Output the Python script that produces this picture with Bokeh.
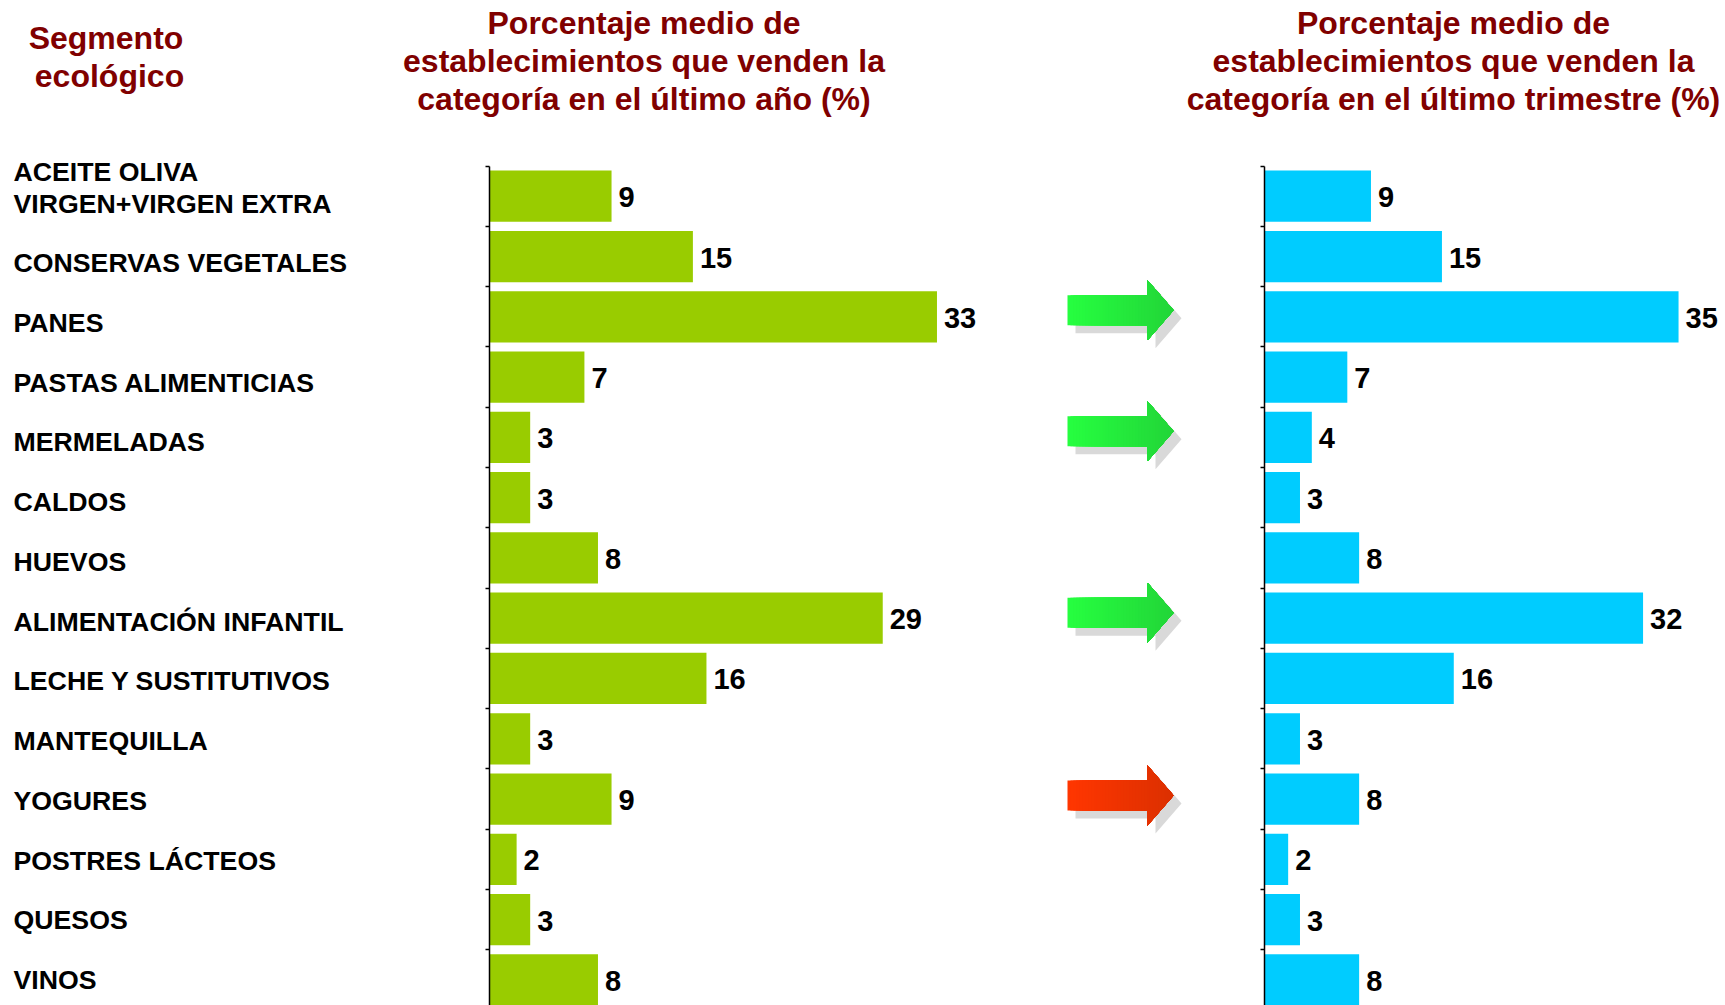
from bokeh.plotting import figure
from bokeh.models import Range1d, FixedTicker, LinearAxis, ColumnDataSource
from bokeh.core.properties import value
from bokeh.embed import file_html
from bokeh.resources import INLINE

categories = ["ACEITE OLIVA\nVIRGEN+VIRGEN EXTRA", "CONSERVAS VEGETALES", "PANES", "PASTAS ALIMENTICIAS",
              "MERMELADAS", "CALDOS", "HUEVOS", "ALIMENTACIÓN INFANTIL", "LECHE Y SUSTITUTIVOS",
              "MANTEQUILLA", "YOGURES", "POSTRES LÁCTEOS", "QUESOS", "VINOS"]
year_values = [9, 15, 33, 7, 3, 3, 8, 29, 16, 3, 9, 2, 3, 8]
quarter_values = [9, 15, 35, 7, 4, 3, 8, 32, 16, 3, 8, 2, 3, 8]
arrow_rows = [2, 4, 7, 10]
arrow_kinds = ["up", "up", "up", "down"]
header_segment = ["Segmento", "ecológico"]
header_year = ["Porcentaje medio de", "establecimientos que venden la", "categoría en el último año (%)"]
header_quarter = ["Porcentaje medio de", "establecimientos que venden la", "categoría en el último trimestre (%)"]

FONT = "Liberation Sans"
GREEN, BLUE, DARK_RED = "#99CC00", "#00CCFF", "#800000"
TOP, PITCH = 165.6, 60.28
AX1, UNIT1 = 489.0, 13.56
AX2, UNIT2 = 1264.0, 11.83
W, H, LEFT = 1725, 1005, 12
N = len(categories)


def py(y):
    return (y - TOP) / PITCH


def px1(x):
    return (x - AX1) / UNIT1


def px2(x):
    return (x - AX2) / UNIT2


p = figure(frame_width=W - LEFT, frame_height=H, width=W, height=H, output_backend="svg", toolbar_location=None,
           x_range=Range1d(px1(LEFT), px1(W)), y_range=Range1d(py(H), py(0)),
           x_axis_location=None, y_axis_location=None,
           min_border_left=LEFT, min_border_right=0, min_border_top=0, min_border_bottom=0,
           outline_line_color=None, background_fill_color="white", border_fill_color="white")
p.grid.visible = False
p.extra_x_ranges = {"q": Range1d(px2(LEFT), px2(W))}

ticks = list(range(N + 1))
for location in (0.0, px1(AX2)):
    ax = LinearAxis(fixed_location=location, bounds=(0, N), ticker=FixedTicker(ticks=ticks),
                    major_label_overrides={t: "" for t in ticks}, major_label_standoff=0,
                    major_tick_in=0, major_tick_out=4, minor_tick_line_color=None,
                    axis_line_color="#000000", axis_line_width=1.5,
                    major_tick_line_color="#000000", major_tick_line_width=1.5)
    p.add_layout(ax, "left")


def draw_bars(values, color, **rng):
    ys = [i + 0.5 for i in range(len(values))]
    src = ColumnDataSource(dict(y=ys, v=values, t=[str(v) for v in values]))
    p.hbar(y="y", right="v", left=0, height=0.85, source=src, fill_color=color, line_color=None, **rng)
    p.text(x="v", y="y", text="t", source=src, x_offset=7, y_offset=1,
           text_font=value(FONT), text_font_style="bold", text_font_size="29px",
           text_color="#000000", text_align="left", text_baseline="middle", **rng)


def header(lines, xs, ys):
    src = ColumnDataSource(dict(x=xs, y=[py(v) for v in ys], t=lines))
    p.text(x="x", y="y", text="t", source=src, text_font=value(FONT), text_font_style="bold",
           text_font_size="32px", text_color=DARK_RED, text_align="center", text_baseline="middle")


def mix(a, b, t):
    return "#%02x%02x%02x" % tuple(round(a[k] + (b[k] - a[k]) * t) for k in range(3))


def draw_arrow(r, kind, shift):
    cy = TOP + PITCH * (r + 0.5) + shift
    x0, xb, xt = 1067.0, 1147.0, 1173.0
    half_s, half_h = 15.0, 30.0
    sh = 8.0
    shadow_x = [x0 + sh, xb + sh, xb + sh, xt + sh, xb + sh, xb + sh, x0 + sh]
    shadow_y = [cy - half_s + sh, cy - half_s + sh, cy - half_h + sh, cy + sh, cy + half_h + sh, cy + half_s + sh, cy + half_s + sh]
    p.patch([px1(v) for v in shadow_x], [py(v) for v in shadow_y], fill_color="#D9D9D9", line_color=None)
    c0, c1 = ((0x26, 0xFF, 0x40), (0x22, 0xD5, 0x38)) if kind == "up" else ((0xFF, 0x36, 0x00), (0xDC, 0x30, 0x00))
    n = 36

    def half(x):
        return half_s if x < xb else half_h * (xt - x) / (xt - xb)
    # painted left to right: each strip runs to the tip, so no seams show
    for i in range(n):
        a = x0 + (xt - x0) * i / n
        col = mix(c0, c1, (i + 0.5) / n)
        if a < xb:
            xs = [a, xb, xb, xt, xb, xb, a]
            ys = [cy - half_s, cy - half_s, cy - half_h, cy, cy + half_h, cy + half_s, cy + half_s]
        else:
            xs = [a, xt, a]
            ys = [cy - half(a), cy, cy + half(a)]
        p.patch([px1(v) for v in xs], [py(v) for v in ys], fill_color=col, line_color=None)


draw_bars(year_values, GREEN)
draw_bars(quarter_values, BLUE, x_range_name="q")

# category labels
lab_first, lab_last = 203.0, 979.6
lab_step = (lab_last - lab_first) / (N - 1)
lx, ly, lt = [], [], []
for i, c in enumerate(categories):
    y = lab_first + lab_step * i
    parts = c.split("\n")
    for k, part in enumerate(parts):
        lx.append(px1(13.0))
        ly.append(py(y - 32.0 * (len(parts) - 1 - k)))
        lt.append(part)
p.text(x="x", y="y", text="t", source=ColumnDataSource(dict(x=lx, y=ly, t=lt)),
       text_font=value(FONT), text_font_style="bold", text_font_size="26.7px",
       text_color="#000000", text_align="left", text_baseline="middle")

header(header_segment, [px1(105.5), px1(109.0)], [37.0, 75.0])
header(header_year, [px1(643.5)] * 3, [22.0, 60.5, 98.5])
header(header_quarter, [px1(1453.0)] * 3, [22.0, 60.5, 98.5])

for r, k, s in zip(arrow_rows, arrow_kinds, [-6.5, -6, -5.5, -3.5]):
    draw_arrow(r, k, s)

open("out.html", "w").write(file_html(p, INLINE))
